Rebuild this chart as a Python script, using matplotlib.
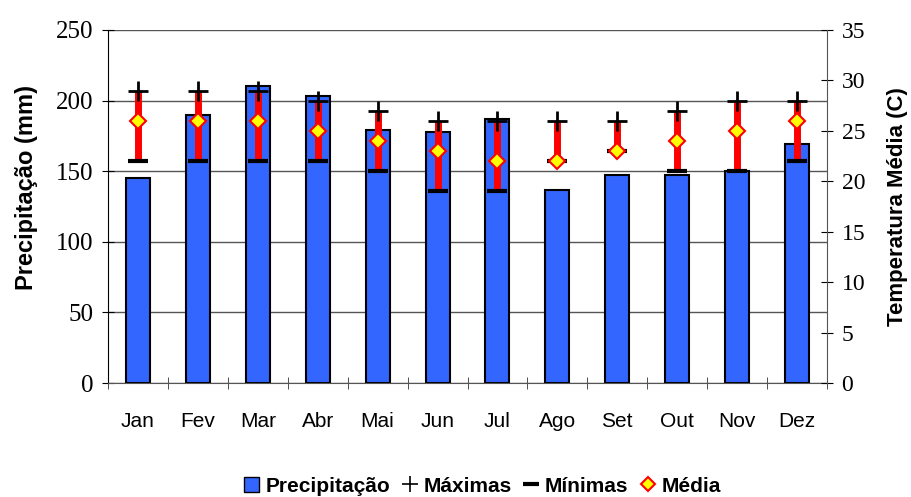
import matplotlib.pyplot as plt
import numpy as np
from matplotlib.lines import Line2D
from matplotlib.patches import Patch

meses = ["Jan", "Fev", "Mar", "Abr", "Mai", "Jun", "Jul", "Ago", "Set", "Out", "Nov", "Dez"]
precip = [145, 190, 210, 203, 179, 178, 187, 137, 147, 147, 150, 169]
t_max = [29, 29, 29, 28, 27, 26, 26, 26, 26, 27, 28, 28]
t_min = [22, 22, 22, 22, 21, 19, 19, 22, 23, 21, 21, 22]
t_med = [26, 26, 26, 25, 24, 23, 22, 22, 23, 24, 25, 26]

x = np.arange(len(meses))
sans = "Liberation Sans"
serif = "Liberation Serif"

fig = plt.figure(figsize=(9.11, 4.97), dpi=100)
ax = fig.add_axes([108/911, 1 - 383/497, (827-108)/911, (383-30)/497])
ax2 = ax.twinx()

ax.bar(x, precip, width=0.4, color="#3366FF", edgecolor="black", linewidth=1.5, zorder=2)
ax.set_ylim(0, 250)
ax.set_xlim(-0.5, 11.5)
ax.set_yticks(range(0, 251, 50))
ax.yaxis.grid(True, color="#555555", linewidth=1)
ax.set_axisbelow(True)
ax.set_xticks(x)
ax.set_xticklabels(meses, fontfamily=sans, fontsize=15)
ax.set_xticks(np.arange(-0.5, 12, 1), minor=True)
ax.tick_params(axis="x", which="major", length=0, pad=21)
ax.tick_params(axis="x", which="minor", length=9, direction="inout", color="#333333")
ax.tick_params(axis="y", length=9, direction="inout", labelsize=18, pad=6)
for lab in ax.get_yticklabels():
    lab.set_fontfamily(serif)
ax.set_ylabel("Precipitação (mm)", fontfamily=sans, fontweight="bold", fontsize=17)
ax.yaxis.set_label_coords(-0.097, 0.555)
for s in ["top", "right"]:
    ax.spines[s].set_visible(False)
ax.spines["bottom"].set_color("#555555")

ax2.set_ylim(0, 35)
ax2.set_yticks(range(0, 36, 5))
ax2.tick_params(axis="y", length=9, direction="inout", labelsize=17, pad=6)
for lab in ax2.get_yticklabels():
    lab.set_fontfamily(serif)
ax2.set_ylabel("Temperatura Média (C)", fontfamily=sans, fontweight="bold", fontsize=16, labelpad=16)
for s in ["top", "left", "bottom"]:
    ax2.spines[s].set_visible(False)
ax2.spines["right"].set_color("#555555")

ax2.vlines(x, t_min, t_max, color="red", linewidth=5, zorder=3)
ax2.plot(x, t_max, linestyle="none", marker="+", markersize=15, markeredgewidth=2, color="black", zorder=4)
ax2.plot(x, t_min, linestyle="none", marker="_", markersize=14, markeredgewidth=3, color="black", zorder=4)
ax2.plot(x, t_med, linestyle="none", marker="D", markersize=8, markerfacecolor="yellow",
         markeredgecolor="red", markeredgewidth=1.5, zorder=5)

handles = [
    Patch(facecolor="#3366FF", edgecolor="black", label="Precipitação"),
    Line2D([], [], linestyle="none", marker="+", markersize=12, markeredgewidth=1.2, color="black", label="Máximas"),
    Line2D([], [], linestyle="none", marker="_", markersize=12, markeredgewidth=3, color="black", label="Mínimas"),
    Line2D([], [], linestyle="none", marker="D", markersize=7, markerfacecolor="yellow",
           markeredgecolor="red", markeredgewidth=1.5, label="Média"),
]
fig.legend(handles=handles, loc="center", bbox_to_anchor=(0.53, 1 - 486/497), ncol=4, frameon=False,
           prop={"family": sans, "weight": "bold", "size": 15},
           handlelength=0.7, handletextpad=0.3, columnspacing=0.6)

fig.savefig("out.png", dpi=100)
